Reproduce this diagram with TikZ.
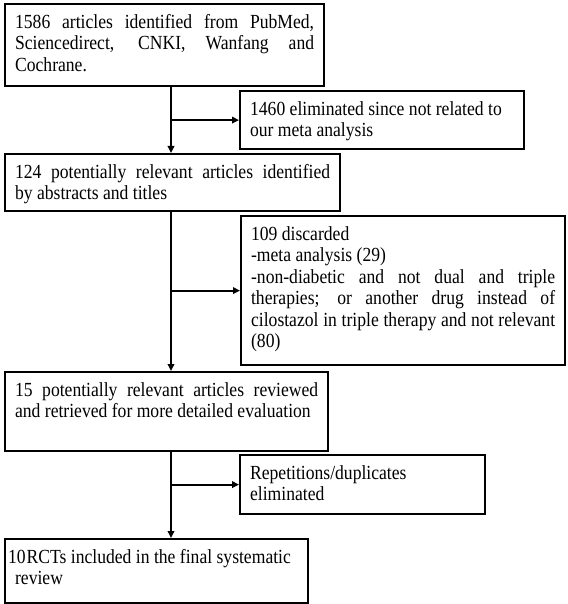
\documentclass[tikz,border=0pt]{standalone}
\usepackage{fontspec}
\setmainfont{Liberation Serif}[FakeStretch=0.88]
\usetikzlibrary{arrows.meta}
\hyphenpenalty=10000
\exhyphenpenalty=10000
\tolerance=10000
\tikzset{
    stepbox/.style={
        rectangle,
        draw=black, % 黑色边框
        line width=2.2pt, % 边框加粗
        anchor=north west,
        align=justify,
        inner xsep=10pt,
        inner ysep=4pt,
        text height=20pt,
        font=\fontsize{20}{21.5}\selectfont
    },
    flowline/.style={
        line width=1.8pt,
        -{Triangle[length=7pt,width=6.5pt]}
    }
}

\begin{document}
\begin{tikzpicture}[x=1pt,y=-1pt]
            \useasboundingbox (0,0) rectangle (567,604);
            % 主流程
            \node[stepbox, text width=299pt, text depth=54pt] (found) at (4,3)
                {1586 articles identified from PubMed,\linebreak Sciencedirect, CNKI, Wanfang and\linebreak Cochrane.};
            \node[stepbox, text width=315pt, text depth=29pt] (relevant) at (4,153)
                {124 potentially relevant articles identified\linebreak by abstracts and titles};
            \node[stepbox, text width=303pt, text depth=51pt] (reviewed) at (4,371)
                {15 potentially relevant articles reviewed\linebreak and retrieved for more detailed evaluation};
            \node[stepbox, inner xsep=3pt, text width=297pt, text depth=36pt] (included) at (4,538)
                {10\kern1pt RCTs included in the final systematic\newline\mbox{}\hspace{7pt}review};
            % 排除的文献
            \node[stepbox, text width=264pt, text depth=30pt] (excluded) at (239,90)
                {1460 eliminated since not related to\\our meta analysis};
            \node[stepbox, text width=304pt, text depth=121pt] (discarded) at (240,215)
                {109 discarded\\-meta analysis (29)\\-non-diabetic and not dual and triple\linebreak therapies; or another drug instead of\linebreak cilostazol in triple therapy and not relevant\linebreak (80)};
            \node[stepbox, text width=225pt, text depth=31pt] (duplicates) at (239,454)
                {Repetitions/duplicates\\eliminated};
            % 连线
            \coordinate (spine) at (171,0);
            \draw[flowline] (found.south -| spine) -- (relevant.north -| spine);
            \draw[flowline] (relevant.south -| spine) -- (reviewed.north -| spine);
            \draw[flowline] (reviewed.south -| spine) -- (included.north -| spine);
            \draw[flowline] (spine |- excluded.west) -- (excluded.west);
            \draw[flowline] (spine |- discarded.west) -- (discarded.west);
            \draw[flowline] (spine |- duplicates.west) -- (duplicates.west);
\end{tikzpicture}
\end{document}
